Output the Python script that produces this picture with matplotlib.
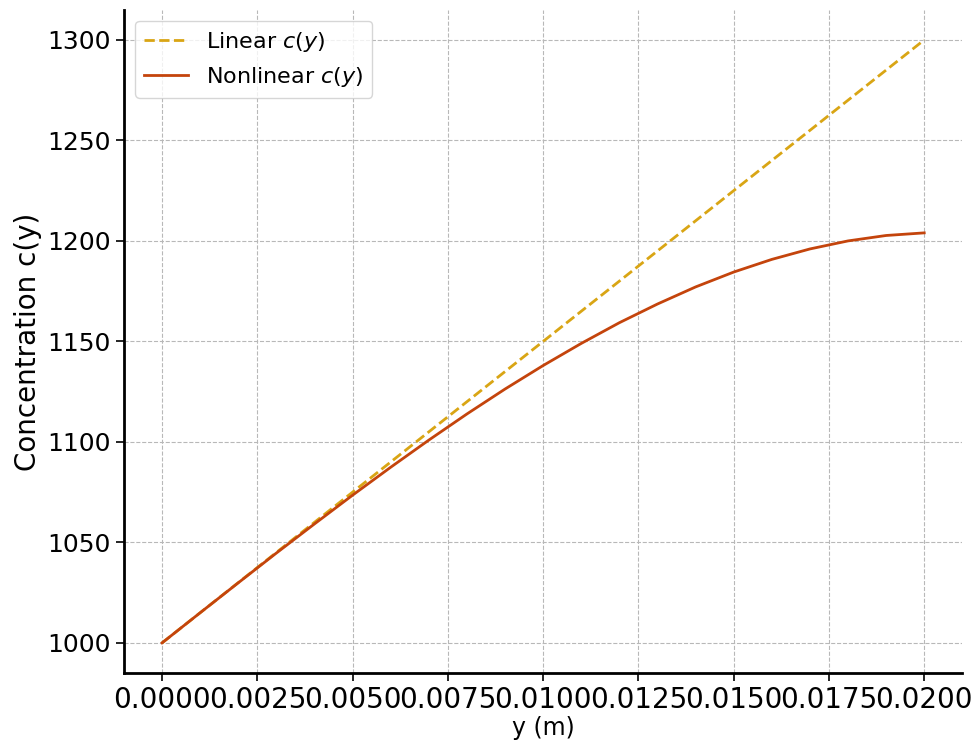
import numpy as np
import matplotlib.pyplot as plt

# data
y_pos = [0.0, 0.001, 0.002, 0.003, 0.004, 0.005, 0.006, 0.007, 0.008, 0.009, 0.010,
         0.011, 0.012, 0.013, 0.014, 0.015, 0.016, 0.017, 0.018, 0.019, 0.020]
c_nonlinear = [1000.0, 1015.0, 1029.9, 1044.7, 1059.2, 1073.5, 1087.4, 1100.9, 1113.9, 1126.3, 1138.0,
               1149.0, 1159.3, 1168.6, 1177.1, 1184.5, 1190.8, 1196.0, 1200.0, 1202.7, 1204.0]
y_lin = [0.0, 0.020]
c_linear = [1000.0, 1300.0]

fig = plt.figure(figsize=(9.76, 7.52), dpi=100)
ax = fig.add_axes([0.127, 0.105, 0.859, 0.882])

ax.plot(y_lin, c_linear, '--', color='#d9a514', lw=2, label='Linear $c(y)$')
ax.plot(y_pos, c_nonlinear, '-', color='#c4440c', lw=2, label='Nonlinear $c(y)$')

ax.set_xticks(np.arange(0, 0.0201, 0.0025))
ax.set_xticklabels(['%.4f' % v for v in np.arange(0, 0.0201, 0.0025)])
ax.set_yticks(np.arange(1000, 1301, 50))
ax.tick_params(axis='y', labelsize=18, length=6, width=1.2)
ax.tick_params(axis='x', labelsize=20, length=6, width=1.2, pad=3)
ax.set_xlabel('y (m)', fontsize=17, labelpad=2)
ax.set_ylabel('Concentration c(y)', fontsize=20)

for s in ['top', 'right']:
    ax.spines[s].set_visible(False)
for s in ['left', 'bottom']:
    ax.spines[s].set_linewidth(2)

ax.grid(True, ls='--', color='#b8b8b8', lw=0.8)
ax.legend(loc='upper left', fontsize=16)

plt.savefig('out.png', dpi=100)
